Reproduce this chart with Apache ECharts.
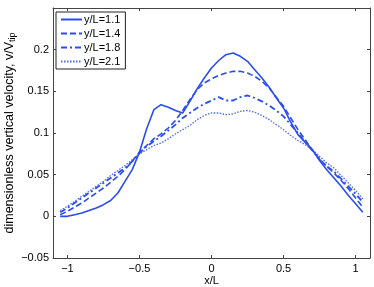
<!DOCTYPE html>
<html><head><meta charset="utf-8">
<script src="https://cdn.jsdelivr.net/npm/echarts@6/dist/echarts.min.js"></script>
<style>html,body{margin:0;padding:0;background:#fff}#c{width:374px;height:287px}</style>
</head><body><div id="c"></div>
<script>
var xs = [-1.05,-1.00,-0.95,-0.90,-0.85,-0.80,-0.75,-0.70,-0.65,-0.60,-0.55,-0.50,-0.45,-0.40,-0.35,-0.30,-0.25,-0.20,-0.15,-0.10,-0.05,0.00,0.05,0.10,0.15,0.20,0.25,0.30,0.35,0.40,0.45,0.50,0.55,0.60,0.65,0.70,0.75,0.80,0.85,0.90,0.95,1.00,1.05];
var seriesNames = ['y/L=1.1','y/L=1.4','y/L=1.8','y/L=2.1'];
var v11 = [0,0,0.002,0.004,0.007,0.010,0.014,0.019,0.028,0.042,0.056,0.077,0.105,0.128,0.134,0.131,0.127,0.124,0.138,0.153,0.166,0.178,0.187,0.194,0.196,0.192,0.186,0.176,0.166,0.155,0.142,0.130,0.113,0.098,0.089,0.080,0.067,0.056,0.046,0.036,0.025,0.015,0.005];
var v14 = [0.002,0.006,0.011,0.016,0.022,0.028,0.034,0.041,0.048,0.056,0.066,0.077,0.085,0.093,0.099,0.106,0.115,0.127,0.140,0.152,0.160,0.165,0.169,0.172,0.174,0.174,0.172,0.168,0.162,0.154,0.143,0.132,0.118,0.104,0.092,0.079,0.069,0.060,0.052,0.043,0.033,0.022,0.011];
var v18 = [0.005,0.010,0.016,0.022,0.028,0.034,0.040,0.046,0.052,0.058,0.066,0.076,0.084,0.090,0.096,0.103,0.110,0.118,0.124,0.130,0.135,0.139,0.143,0.139,0.139,0.143,0.145,0.142,0.138,0.133,0.127,0.120,0.110,0.100,0.089,0.079,0.068,0.060,0.054,0.045,0.036,0.027,0.017];
var v21 = [0.007,0.012,0.018,0.024,0.030,0.036,0.042,0.049,0.055,0.061,0.068,0.075,0.080,0.085,0.088,0.093,0.099,0.104,0.109,0.116,0.121,0.124,0.124,0.122,0.123,0.126,0.127,0.125,0.121,0.116,0.110,0.104,0.097,0.091,0.086,0.080,0.072,0.064,0.058,0.049,0.040,0.031,0.021];
var xTicks = [-1,-0.5,0,0.5,1];
var yTicks = [-0.05,0,0.05,0.1,0.15,0.2];

function pairs(ys){ return xs.map(function(x,i){ return [x, ys[i]]; }); }
function near(v, arr){ for (var i=0;i<arr.length;i++){ if (Math.abs(v-arr[i])<1e-6) return true; } return false; }
function fmt(v){ return String(+v.toFixed(4)).replace('-', '\u2212'); }

var col = '#2a4cf5';
var font = 'Liberation Sans, Arial, sans-serif';
var axisCol = '#444';
var styles = [
  {type:'solid', width:1.6},
  {type:[6,3], width:1.6},
  {type:[6,3,2,3], width:1.8},
  {type:[1.5,1.5], width:1.3, opacity:0.85}
];
var data = [v11, v14, v18, v21];

var chart = echarts.init(document.getElementById('c'), null, {renderer:'canvas'});
var baseX = {type:'value', min:-1.1, max:1.1, splitNumber:5, splitLine:{show:false},
  axisLine:{onZero:false, lineStyle:{color:axisCol, width:1}},
  axisTick:{inside:true, length:3, lineStyle:{color:axisCol}}};
var baseY = {type:'value', min:-0.05, max:0.25, interval:0.05, splitLine:{show:false},
  axisLine:{onZero:false, lineStyle:{color:axisCol, width:1}},
  axisTick:{inside:true, length:3, lineStyle:{color:axisCol}}};
chart.setOption({
  animation:false,
  backgroundColor:'#fff',
  grid:{left:53, right:4, top:8, bottom:29, containLabel:false, outerBoundsMode:'none'},
  legend:{
    orient:'vertical', left:56, top:12, padding:[2,5,2,4],
    itemWidth:21, itemHeight:10, itemGap:3,
    itemStyle:{opacity:0},
    backgroundColor:'#fff', borderColor:'#222', borderWidth:1, borderRadius:0,
    textStyle:{fontFamily:font, fontSize:11, lineHeight:11, color:'#000', padding:[0,0,0,-3]},
    data:seriesNames
  },
  xAxis:[
    Object.assign({}, baseX, {position:'bottom', name:'x/L', nameLocation:'middle', nameGap:17, nameMoveOverlap:false,
      nameTextStyle:{fontFamily:font, fontSize:11, color:'#000'},
      axisLabel:{margin:5, fontFamily:font, fontSize:11, color:'#000',
        formatter:function(v){ return near(v, xTicks) ? fmt(v) : ''; }}}),
    Object.assign({}, baseX, {position:'top', axisLabel:{show:false}})
  ],
  yAxis:[
    Object.assign({}, baseY, {position:'left',
      name:'{a|dimensionless vertical velocity, v/V}{s|tip}', nameLocation:'middle', nameGap:36, nameMoveOverlap:false,
      nameTextStyle:{fontFamily:font, fontSize:12.5, color:'#000',
        rich:{a:{fontFamily:font, fontSize:12.5, color:'#000'}, s:{fontFamily:font, fontSize:9, color:'#000', verticalAlign:'bottom', padding:[6,0,0,0]}}},
      axisLabel:{margin:4, fontFamily:font, fontSize:11, color:'#000',
        formatter:function(v){ return near(v, yTicks) ? fmt(v) : ''; }}}),
    Object.assign({}, baseY, {position:'right', axisLabel:{show:false}})
  ],
  series: seriesNames.map(function(n,i){
    return {name:n, type:'line', data:pairs(data[i]), symbol:'none', smooth:false,
      xAxisIndex:0, yAxisIndex:0,
      lineStyle:Object.assign({color:col}, styles[i]), itemStyle:{color:col}};
  })
});
</script></body></html>
